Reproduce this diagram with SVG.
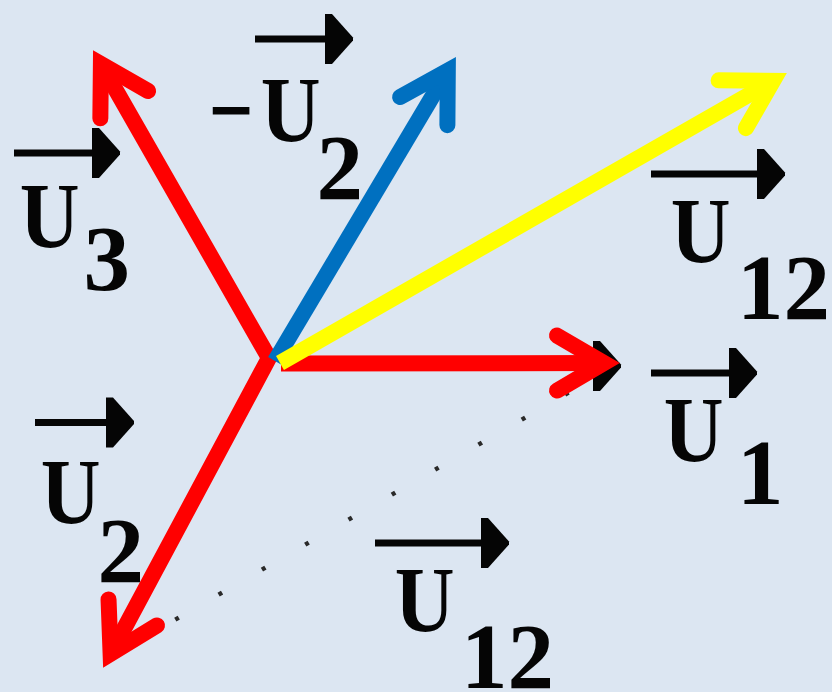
<svg xmlns="http://www.w3.org/2000/svg" width="832" height="692" viewBox="0 0 832 692">
<defs>
<style>
.lbl{font-family:"Liberation Serif","Times New Roman",serif;font-weight:bold;font-size:93px;fill:#050505}
.bar{stroke:#050505;stroke-width:7;fill:none}
.head{fill:#050505}
.vec{fill:none;stroke-width:16;stroke-linecap:butt;stroke-linejoin:miter}
.ah{fill:none;stroke-width:16;stroke-linecap:round;stroke-linejoin:miter}
</style>
<path id="gh" d="M0,-25 L7,-25 L28,-1.5 L28,1.5 L7,25 L0,25 Z"/>
<marker id="mr" markerUnits="userSpaceOnUse" orient="auto" refX="0" refY="0" markerWidth="10" markerHeight="10" overflow="visible"><path class="ah" stroke="#ff0000" d="M-47,-27.5 L0,0 L-47,27.5"/></marker>
<marker id="mrs" markerUnits="userSpaceOnUse" orient="auto-start-reverse" refX="0" refY="0" markerWidth="10" markerHeight="10" overflow="visible"><path class="ah" stroke="#ff0000" d="M-47,-27.5 L0,0 L-47,27.5"/></marker>
<marker id="mb" markerUnits="userSpaceOnUse" orient="auto" refX="0" refY="0" markerWidth="10" markerHeight="10" overflow="visible"><path class="ah" stroke="#0070c0" d="M-47,-27.5 L0,0 L-47,27.5"/></marker>
<marker id="my" markerUnits="userSpaceOnUse" orient="auto" refX="0" refY="0" markerWidth="10" markerHeight="10" overflow="visible"><path class="ah" stroke="#ffff00" d="M-47,-27.5 L0,0 L-47,27.5"/></marker>
</defs>
<rect width="832" height="692" fill="#dce6f2"/>

<g id="connectors">
<line x1="132" y1="644.6" x2="596" y2="376.8" stroke="#2a2a2a" stroke-width="4.5" stroke-dasharray="4 46"/>
<use href="#gh" class="head" transform="translate(593,366)"/>
<polyline class="vec" stroke="#ff0000" points="100.9,63.9 269,358 110.6,653.9" marker-start="url(#mrs)" marker-end="url(#mr)"/>
<line class="vec" stroke="#ff0000" x1="281" y1="363.5" x2="604" y2="363" marker-end="url(#mr)"/>
<line class="vec" stroke="#0070c0" x1="275" y1="361" x2="447.8" y2="70.7" marker-end="url(#mb)"/>
<line class="vec" stroke="#ffff00" x1="280" y1="363" x2="773.1" y2="80.9" marker-end="url(#my)"/>
</g>

<g id="label-U3">
<line class="bar" x1="14" y1="153" x2="93" y2="153"/>
<use href="#gh" class="head" transform="translate(92,153)"/>
<text class="lbl" transform="translate(19.7,247) scale(0.89,1)">U</text>
<text class="lbl" x="83.5" y="290">3</text>
</g>

<g id="label-minusU2">
<line class="bar" x1="255" y1="39" x2="326" y2="39"/>
<use href="#gh" class="head" transform="translate(325,39)"/>
<text class="lbl" transform="translate(208.5,147) scale(1.08,1.5)" style="font-size:73px">−</text>
<text class="lbl" transform="translate(260.7,141) scale(0.89,1)">U</text>
<text class="lbl" x="316.4" y="199">2</text>
</g>

<g id="label-U12-top">
<line class="bar" x1="651" y1="174" x2="758" y2="174"/>
<use href="#gh" class="head" transform="translate(757,174)"/>
<text class="lbl" transform="translate(670.7,262) scale(0.89,1)">U</text>
<text class="lbl" x="737" y="319">12</text>
</g>

<g id="label-U1">
<line class="bar" x1="651" y1="373" x2="730" y2="373"/>
<use href="#gh" class="head" transform="translate(729,373)"/>
<text class="lbl" transform="translate(663.7,461) scale(0.89,1)">U</text>
<text class="lbl" x="737" y="504">1</text>
</g>

<g id="label-U2">
<line class="bar" x1="35" y1="422.5" x2="107" y2="422.5"/>
<use href="#gh" class="head" transform="translate(106,422.5)"/>
<text class="lbl" transform="translate(40.7,523) scale(0.89,1)">U</text>
<text class="lbl" x="97.4" y="582">2</text>
</g>

<g id="label-U12-bottom">
<line class="bar" x1="375" y1="543" x2="482" y2="543"/>
<use href="#gh" class="head" transform="translate(481,543)"/>
<text class="lbl" transform="translate(394.7,631) scale(0.89,1)">U</text>
<text class="lbl" x="461" y="688">12</text>
</g>
</svg>
